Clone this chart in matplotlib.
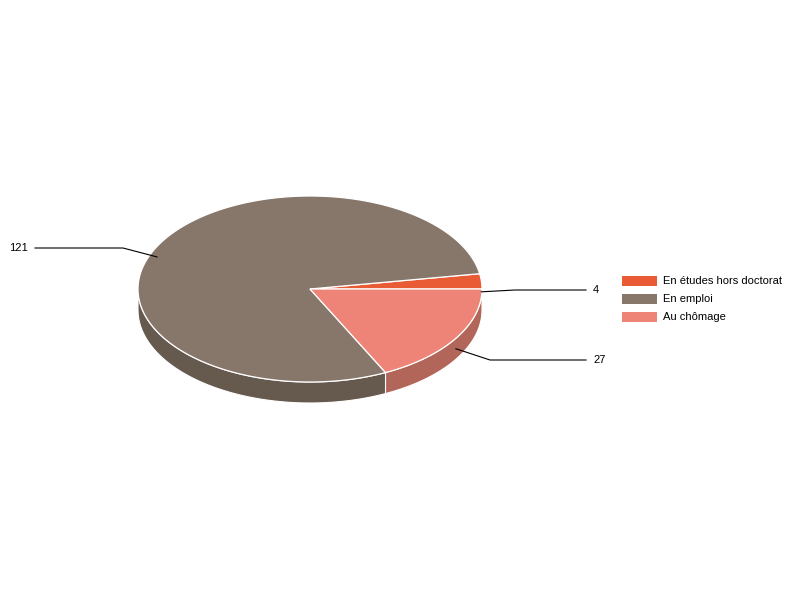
import numpy as np
import matplotlib.pyplot as plt
from matplotlib.patches import Polygon, Rectangle

# data
labels = ['En études hors doctorat', 'En emploi', 'Au chômage']
values = [4, 121, 27]
colors = ['#E95B35', '#87776A', '#EE8377']
side_colors = ['#B0452A', '#665A4F', '#B2665A']

# layout (pixel coords)
CX, CY = 310, 289
RX, RY = 172, 93
DEPTH = 21


def ell(theta):
    t = np.radians(theta)
    return CX + RX * np.cos(t), CY - RY * np.sin(t)


fig = plt.figure(figsize=(8, 6), dpi=100)
ax = fig.add_axes([0, 0, 1, 1])
ax.set_xlim(0, 800)
ax.set_ylim(600, 0)
ax.axis('off')

total = float(sum(values))
bounds = np.concatenate([[0], np.cumsum(values) / total * 360])

# side walls (front half only: 180..360)
for i in range(len(values)):
    a0, a1 = max(bounds[i], 180), min(bounds[i + 1], 360)
    if a1 <= a0:
        continue
    th = np.linspace(a0, a1, 80)
    xs, ys = ell(th)
    pts = list(zip(xs, ys)) + list(zip(xs[::-1], ys[::-1] + DEPTH))
    ax.add_patch(Polygon(pts, closed=True, facecolor=side_colors[i],
                         edgecolor='white', linewidth=0.8, zorder=1))

# top faces
for i in range(len(values)):
    th = np.linspace(bounds[i], bounds[i + 1], 200)
    xs, ys = ell(th)
    pts = [(CX, CY)] + list(zip(xs, ys))
    ax.add_patch(Polygon(pts, closed=True, facecolor=colors[i],
                         edgecolor='white', linewidth=0.9, zorder=2))

# leader lines and value labels
label_pos = [(586, 290, 515), (586, 360, 490), (35, 248, 123)]
order = [0, 2, 1]
for k, i in enumerate(order):
    mid = (bounds[i] + bounds[i + 1]) / 2
    axx, ayy = ell(mid)
    ayy += DEPTH / 2
    lx, ly, ex = label_pos[k]
    ax.plot([axx, ex, lx], [ayy, ly, ly], color='black', linewidth=0.8, zorder=3)
    if lx > CX:
        ax.text(lx + 7, ly, str(values[i]), ha='left', va='center', fontsize=8,
                family='Liberation Sans')
    else:
        ax.text(lx - 7, ly, str(values[i]), ha='right', va='center', fontsize=8,
                family='Liberation Sans')

# legend
for i, lab in enumerate(labels):
    y = 276 + i * 18
    ax.add_patch(Rectangle((622, y), 35, 10, facecolor=colors[i], edgecolor='none'))
    ax.text(663, y + 5, lab, ha='left', va='center', fontsize=8,
            family='Liberation Sans')

fig.savefig('out.png', dpi=100)
